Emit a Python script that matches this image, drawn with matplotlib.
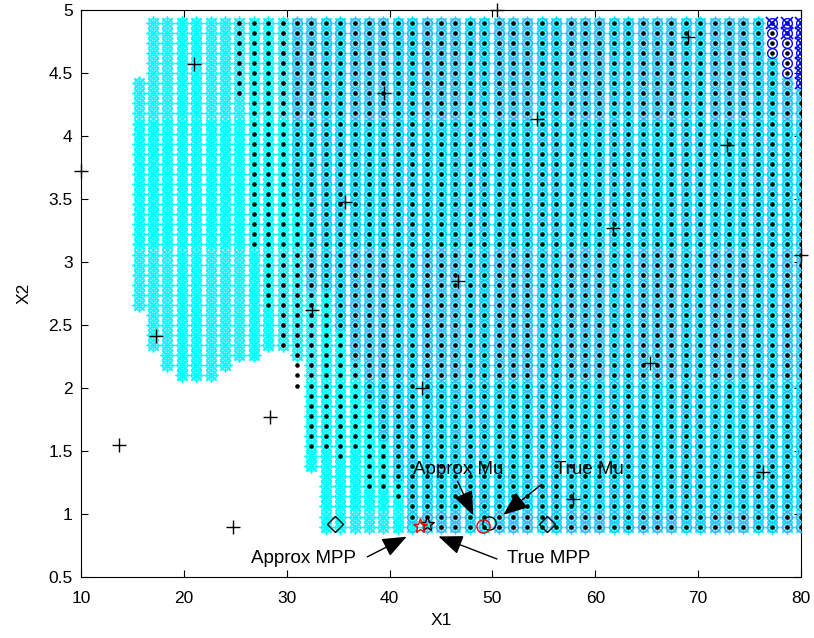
import numpy as np
import matplotlib
matplotlib.use("Agg")
import matplotlib.pyplot as plt
from matplotlib.ticker import FormatStrFormatter

plt.rcParams['font.family'] = ['Liberation Sans', 'DejaVu Sans']

# evaluation grid (51 x 51)
x1_grid = np.linspace(10, 80, 51)
x2_grid = np.linspace(0.9, 4.9, 51)

# per-column x2 limits of each point set (nan = empty column)
nan = np.nan
star_lo = [nan]*4 + [2.66, 2.34, 2.18, 2.10, 2.10, 2.10, 2.18, 2.26, 2.26, 2.34, 2.34, 2.26, 1.38] + [0.9]*34
star_hi = [nan]*4 + [4.42] + [4.9]*43 + [4.58, 4.42, 4.34]
dot_lo = [nan]*11 + [4.34, 3.14, 2.66, 2.34, 2.02, 1.54, 1.54, 1.46, 1.54, 1.22, 1.22, 1.14, 0.98, 0.98] + [0.9]*26
dot_hi = [nan]*11 + [4.9]*40
mix_lo = [nan]*15 + [3.5, 2.82, 2.82, 2.5, 2.2, 1.9, 1.6, 1.3] + [0.9]*28
mix_hi = [nan]*15 + [4.9]*33 + [4.58, 4.42, 4.34]
blue_lo = [nan]*48 + [4.66, 4.50, 4.42]
blue_hi = [nan]*48 + [4.9, 4.9, 4.9]
cross_lo = [nan]*48 + [4.9, 4.82, 4.42]

# sample points
samp_x1 = [10.0, 13.7, 17.3, 21.0, 24.8, 28.4, 32.5, 35.7, 39.5, 43.2,
           46.7, 50.4, 54.3, 57.8, 61.7, 65.3, 69.0, 72.8, 76.3, 80.0]
samp_x2 = [3.72, 1.55, 2.41, 4.57, 0.90, 1.77, 2.62, 3.48, 4.34, 2.00,
           2.85, 5.00, 4.14, 1.12, 3.27, 2.20, 4.79, 3.93, 1.33, 3.06]

diam_x1 = [34.7, 55.3]
diam_x2 = [0.92, 0.92]
mpp_true = (43.6, 0.92)
mpp_apx = (43.0, 0.905)
mu_true = (49.7, 0.93)
mu_apx = (49.1, 0.905)


def pick(lo, hi):
    xs, ys = [], []
    for k, x in enumerate(x1_grid):
        if np.isnan(lo[k]):
            continue
        sel = (x2_grid >= lo[k] - 1e-6) & (x2_grid <= hi[k] + 1e-6)
        xs += [x]*int(sel.sum())
        ys += list(x2_grid[sel])
    return xs, ys


asterisk = (8, 2, 0)

fig, ax = plt.subplots(figsize=(8.14, 6.38), dpi=100)
fig.subplots_adjust(left=0.0995, right=0.984, bottom=0.0956, top=0.984)

sx, sy = pick(star_lo, star_hi)
ax.plot(sx, sy, marker=asterisk, ls='none', color='cyan', ms=10, mew=1, zorder=2)
ax.plot(sx, sy, 'o', color='cyan', mfc='none', ms=7, mew=1, zorder=2)
mx, my = pick(mix_lo, mix_hi)
ax.plot(mx, my, 'o', color='#44aaff', mfc='none', ms=7, mew=1, zorder=3)
bx, by = pick(blue_lo, blue_hi)
ax.plot(bx, by, 'o', color='blue', mfc='none', ms=7, mew=1, zorder=3)
cx, cy = pick(cross_lo, blue_hi)
ax.plot(cx, cy, 'x', color='blue', ms=9, mew=1.2, zorder=5)
dx, dy = pick(dot_lo, dot_hi)
ax.plot(dx, dy, 'o', color='k', ms=3.3, mew=0, zorder=4)

ax.plot(samp_x1, samp_x2, '+', color='k', ms=10, mew=1, zorder=6, clip_on=False)
ax.plot(diam_x1, diam_x2, 'D', color='k', mfc='none', ms=8, mew=1, zorder=6)
ax.plot(*mpp_true, '*', color='k', mfc='none', ms=11, mew=1, zorder=6)
ax.plot(*mpp_apx, '*', color='red', mfc='none', ms=11, mew=1, zorder=7)
ax.plot(*mu_true, 'o', color='k', mfc='none', ms=9.5, mew=1, zorder=6)
ax.plot(*mu_apx, 'o', color='red', mfc='none', ms=9.5, mew=1, zorder=7)

arw = dict(arrowstyle='-|>,head_length=1.0,head_width=0.4', color='k', lw=1, mutation_scale=15)
ax.annotate('', xy=(48.25, 0.97), xytext=(46.5, 1.28), arrowprops=arw, zorder=8)
ax.annotate('', xy=(50.85, 0.98), xytext=(55.0, 1.25), arrowprops=arw, zorder=8)
ax.annotate('', xy=(41.9, 0.83), xytext=(37.6, 0.65), arrowprops=arw, zorder=8)
ax.annotate('', xy=(44.5, 0.83), xytext=(50.7, 0.635), arrowprops=arw, zorder=8)
ax.text(46.7, 1.35, 'Approx Mu', ha='center', va='center', fontsize=13.5, zorder=9)
ax.text(59.4, 1.35, 'True Mu', ha='center', va='center', fontsize=13.5, zorder=9)
ax.text(31.6, 0.65, 'Approx MPP', ha='center', va='center', fontsize=13.5, zorder=9)
ax.text(55.5, 0.65, 'True MPP', ha='center', va='center', fontsize=13.5, zorder=9)

ax.set_xlim(10, 80)
ax.set_ylim(0.5, 5)
ax.set_xticks(np.arange(10, 81, 10))
ax.set_yticks(np.arange(0.5, 5.01, 0.5))
ax.yaxis.set_major_formatter(FormatStrFormatter('%g'))
ax.tick_params(direction='in', top=True, right=True, labelsize=12.5, length=5)
ax.tick_params(axis='x', pad=10)
ax.tick_params(axis='y', pad=6)
ax.set_xlabel('X1', fontsize=12.5, labelpad=5)
ax.set_ylabel('X2', fontsize=12.5, labelpad=12)

fig.savefig('out.png')
